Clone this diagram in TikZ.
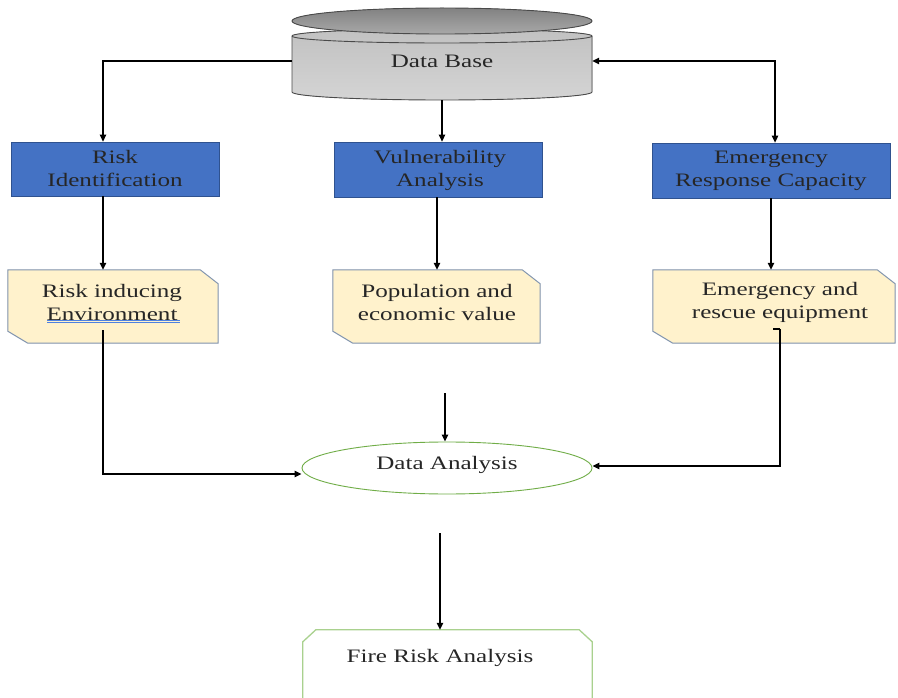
\documentclass[tikz,border=0pt]{standalone}
\usepackage{fontspec}
\setmainfont[FakeStretch=1.32]{Liberation Serif}
\usetikzlibrary{arrows.meta,shapes.geometric}
\definecolor{boxblue}{HTML}{4472C4}
\definecolor{boxblueline}{HTML}{2F528F}
\definecolor{noteyel}{HTML}{FFF2CC}
\definecolor{noteline}{HTML}{8497B0}
\definecolor{grnline}{HTML}{70AD47}
\definecolor{grnlinetwo}{HTML}{A9D18E}
\definecolor{cylbody}{HTML}{D2D2D2}
\definecolor{cyltop}{HTML}{999999}
\definecolor{cylline}{HTML}{4A4A4A}
\definecolor{shad}{HTML}{A6A6A6}
\definecolor{spellblue}{HTML}{4F81E0}
\newcommand\snipshape[1]{%
  \fill[shad,xshift=3pt,yshift=-3pt] (#1.north west) -- ([xshift=-18pt]#1.north east) -- ([yshift=-14pt]#1.north east) -- (#1.south east) -- ([xshift=20pt]#1.south west) -- ([yshift=12pt]#1.south west) -- cycle;
  \filldraw[fill=noteyel,draw=noteline,line width=1pt] (#1.north west) -- ([xshift=-18pt]#1.north east) -- ([yshift=-14pt]#1.north east) -- (#1.south east) -- ([xshift=20pt]#1.south west) -- ([yshift=12pt]#1.south west) -- cycle;}
\begin{document}
\begin{tikzpicture}[x=1pt,y=-1pt,
  txt/.style={font=\fontsize{19}{22.5}\selectfont, align=center, inner sep=0pt, text=black!85},
  frame/.style={draw=none, inner sep=0pt, rectangle},
  bluebox/.style={draw=boxblueline, fill=boxblue, line width=0.8pt, inner sep=0pt},
  conn/.style={line width=1.3pt, black},
  arr/.style={conn, -{Triangle[length=7pt,width=6.5pt]}},
  darr/.style={conn, {Triangle[length=7pt,width=6.5pt]}-{Triangle[length=7pt,width=6.5pt]}},
]
\useasboundingbox (0,0) rectangle (898,698);
\fill[white] (0,0) rectangle (898,698);

% ---- Data Base cylinder
\filldraw[top color=cylbody!92!black,bottom color=cylbody!95!white,draw=cylline,line width=0.9pt]
  (292,36) -- (292,92) arc[start angle=180,end angle=0,x radius=150,y radius=8]
  -- (592,36) arc[start angle=0,end angle=-180,x radius=150,y radius=7] -- cycle;
\draw[cylline,line width=0.9pt] (292,36) arc[start angle=180,end angle=0,x radius=150,y radius=7];
\filldraw[top color=cyltop!85!black,bottom color=cyltop!85!white,draw=cylline,line width=0.9pt]
  (442,21) ellipse[x radius=150,y radius=13];
\node[frame, minimum width=300pt, minimum height=78pt] (db) at (442,61) {};
\node[txt] (db-t) at (442,61) {Data Base};

% ---- blue boxes
\node[bluebox, minimum width=208pt, minimum height=54pt] (ri) at (115,169) {};
\node[txt] (ri-t) at (115,168.5) {Risk\\Identification};
\node[bluebox, minimum width=208pt, minimum height=55pt] (va) at (438,169.5) {};
\node[txt] (va-t) at (440,170.5) {Vulnerability\\Analysis};
\node[bluebox, minimum width=238pt, minimum height=55pt] (erc) at (771,170.5) {};
\node[txt] (erc-t) at (771,171) {Emergency\\Response Capacity};

% ---- yellow note boxes
\node[frame, minimum width=210pt, minimum height=73pt] (rie) at (113,306.5) {};
\node[frame, minimum width=207pt, minimum height=73pt] (pev) at (436.5,306.5) {};
\node[frame, minimum width=242pt, minimum height=73pt] (ere) at (774,306.5) {};
\snipshape{rie}
\snipshape{pev}
\snipshape{ere}
\node[txt] (rie-t) at (112,302.5) {Risk inducing\\Environment};
\node[txt] (pev-t) at (437,302.5) {Population and\\economic value};
\node[txt] (ere-t) at (780,302.5) {Emergency and\\rescue equipment};
\draw[spellblue,line width=0.8pt] (47,320) -- (180,320);
\draw[spellblue,line width=0.8pt] (47,322.5) -- (180,322.5);

% ---- Data Analysis ellipse
\node[ellipse, draw=grnline, line width=0.9pt, fill=white, minimum width=290pt, minimum height=52pt, inner sep=0pt] (da) at (447,468) {};
\node[txt] (da-t) at (447,465) {Data Analysis};

% ---- Fire Risk Analysis box
\node[frame, minimum width=289pt, minimum height=70pt] (fra) at (447.5,665) {};
\filldraw[fill=white,draw=grnlinetwo,line width=1.3pt]
  (fra.south west) -- ([yshift=-12pt]fra.north west) -- ([xshift=13pt]fra.north west)
  -- ([xshift=-13pt]fra.north east) -- ([yshift=-12pt]fra.north east) -- (fra.south east);
\node[txt] (fra-t) at (440,658) {Fire Risk Analysis};

% ---- connectors
\draw[arr] (db.west) -| ([xshift=-12pt]ri.north);
\draw[arr] (db.south) -- (db.south |- va.north);
\draw[darr] (db.east) -| ([xshift=4pt]erc.north);
\draw[arr] ([xshift=-12pt]ri.south) -- ([xshift=-12pt]ri.south |- rie.north);
\draw[arr] ([xshift=-1pt]va.south) -- ([xshift=-1pt]va.south |- pev.north);
\draw[arr] (erc.south) -- (erc.south |- ere.north);

\coordinate (c1) at (103,330);
\draw[arr] (c1) |- ([yshift=-6pt]da.west);
\coordinate (c2) at (445,393);
\draw[arr] (c2) -- (c2 |- da.north);
\coordinate (c4a) at (773,329);
\coordinate (c4) at (780,329);
\draw[conn] (c4a) -- (c4);
\draw[arr] (c4) |- ([yshift=2pt]da.east);
\coordinate (c3) at (440,533);
\draw[arr] (c3) -- (c3 |- fra.north);
\end{tikzpicture}
\end{document}
